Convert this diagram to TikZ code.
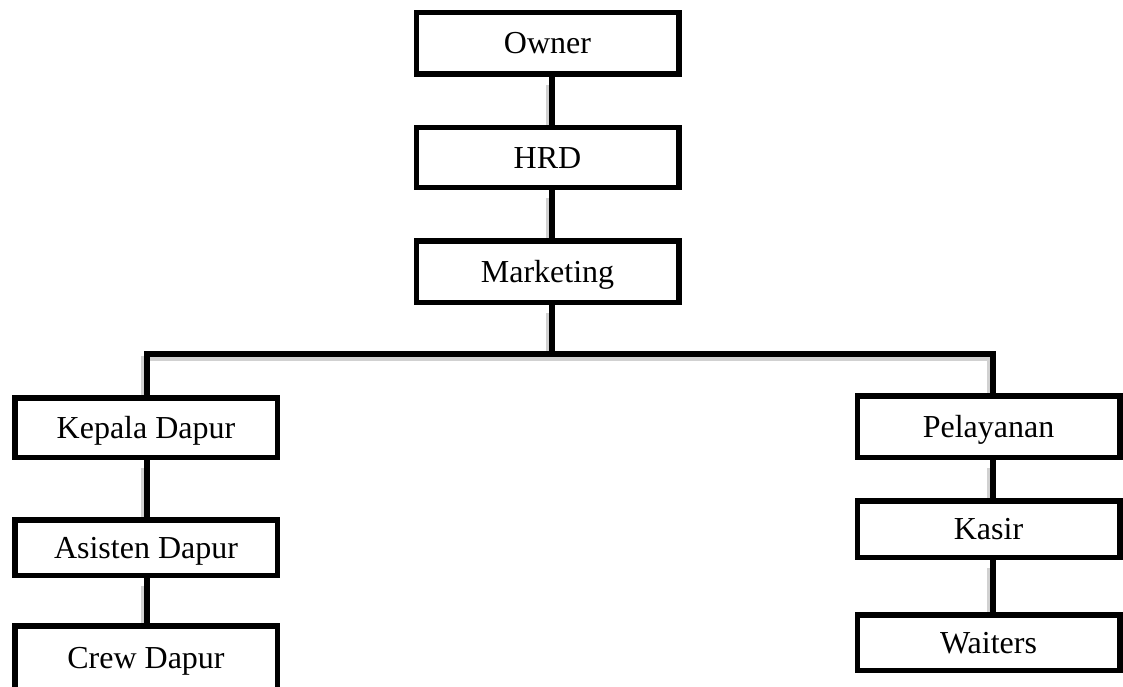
\documentclass[tikz,border=0pt]{standalone}
\usepackage{fontspec}
\setmainfont{Liberation Serif}

\begin{document}
\begin{tikzpicture}
[x=1pt,y=-1pt,
 boxDecorate/.style={shape=rectangle,draw,line width=5.5pt,fill=white,
   minimum width=262.5pt,inner sep=0pt,
   font=\fontsize{32}{38}\selectfont,text height=21pt,text depth=0pt},%
 lineDecorate/.style={-,line width=6pt,
   preaction={draw=black!18,line width=5pt,shorten <=4pt,shorten >=4pt,
     transform canvas={shift={(-4pt,-4pt)}}}}]
\useasboundingbox (0,0) rectangle (1123,687);
%% boxes
\foreach \nodename/\x/\y/\h/\txt in {
  owner/547.5/43.5/61.5/Owner, hrd/547.5/157.5/59.5/HRD,
  marketing/547.5/271.5/61.5/Marketing,
  kepala/146/427.5/59.5/Kepala Dapur, asisten/146/547.5/55.5/Asisten Dapur,
  crew/146/658/64.5/Crew Dapur,
  pelayanan/988.5/426.5/61.5/Pelayanan, kasir/988.5/529/56.5/Kasir,
  waiters/988.5/642.5/55.5/Waiters}
{
  \node (\nodename) at (\x,\y) [boxDecorate,minimum height=\h pt] {\txt};
}
%% lines
\path
\foreach \startnode/\endnode/\dx in {
  owner/hrd/4.5, hrd/marketing/4.5, kepala/asisten/1, asisten/crew/1,
  pelayanan/kasir/4.5, kasir/waiters/4.5}
{
  ([xshift=\dx pt]\startnode.south) edge[lineDecorate] ([xshift=\dx pt]\endnode.north)
};
\coordinate (bar) at (552,354);
\draw[lineDecorate] ([xshift=4.5pt]marketing.south) -- (bar);
\draw[lineDecorate] ([xshift=1pt]kepala.north) |- (bar) -| ([xshift=4.5pt]pelayanan.north);
\end{tikzpicture}
\end{document}
